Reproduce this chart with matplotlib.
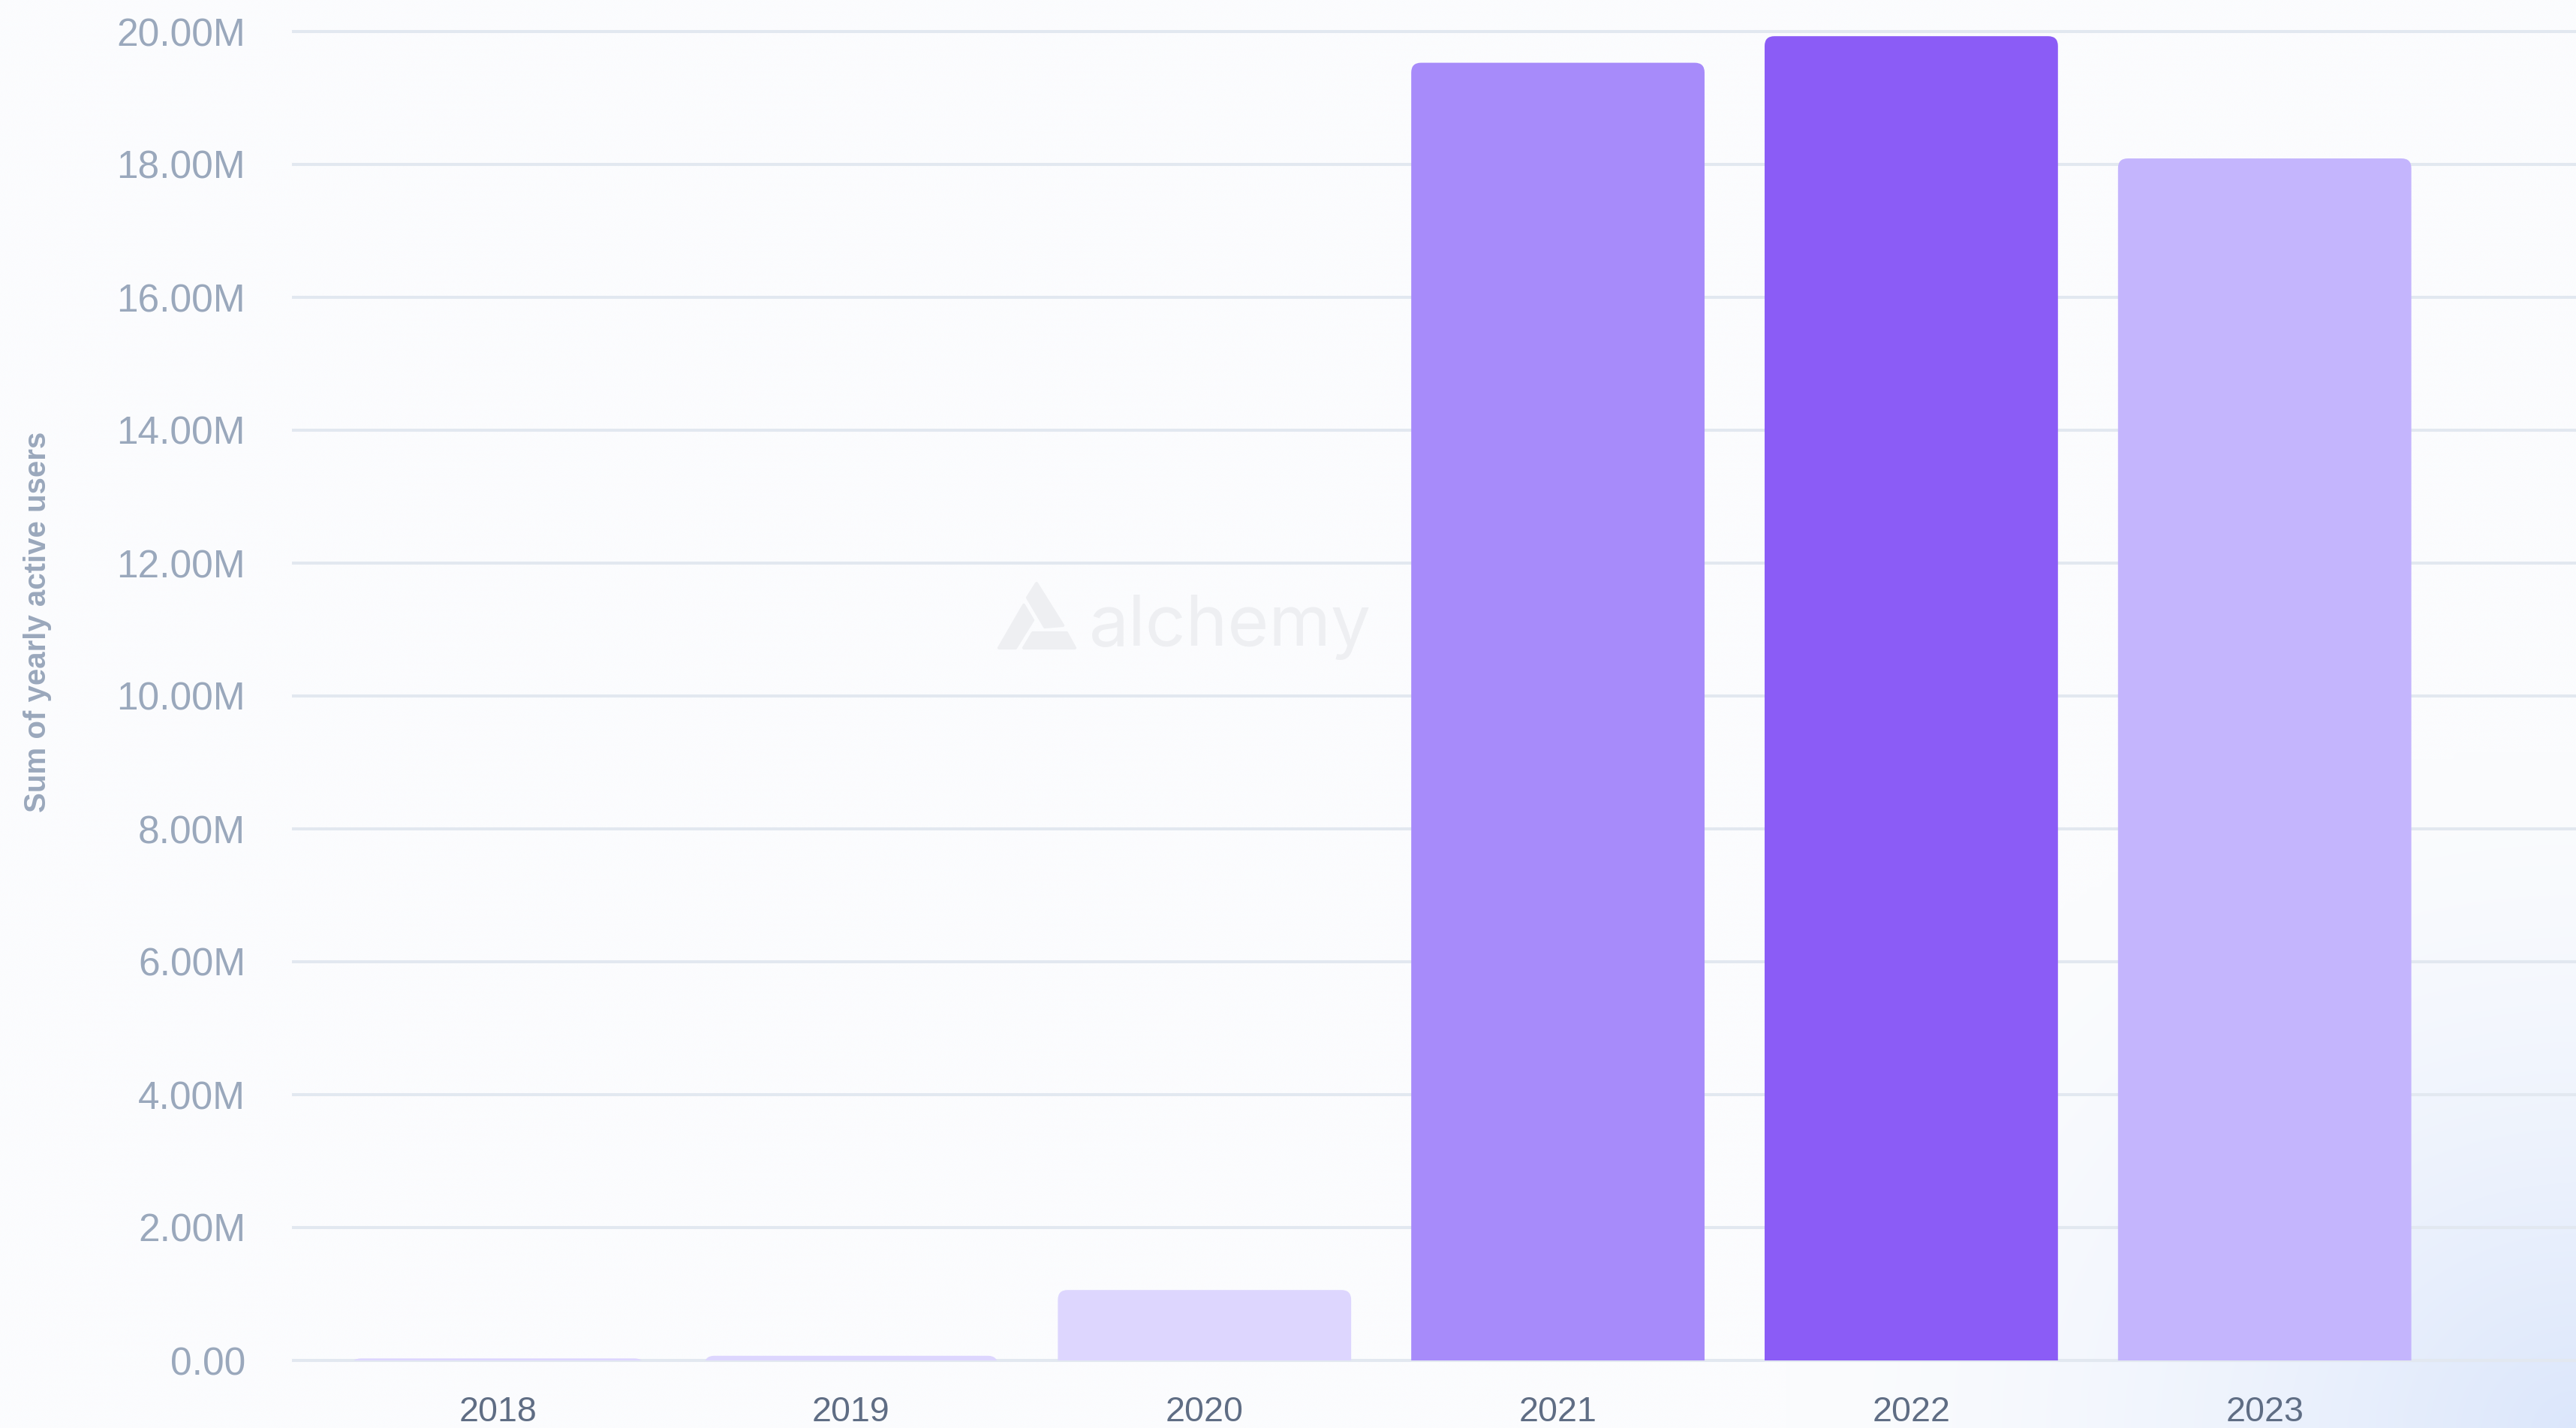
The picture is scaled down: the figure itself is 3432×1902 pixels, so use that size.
import numpy as np
import matplotlib
matplotlib.use("Agg")
import matplotlib.pyplot as plt
from matplotlib.patches import FancyBboxPatch, Polygon
from matplotlib.ticker import FuncFormatter

# ---- data -------------------------------------------------------------
years = ["2018", "2019", "2020", "2021", "2022", "2023"]
active_users_m = [0.03, 0.07, 1.06, 19.53, 19.93, 18.09]   # millions
bar_colors = ["#ddd6fe", "#ddd6fe", "#ddd6fe", "#a78bfa", "#8b5cf6", "#c4b5fd"]
y_ticks = [0, 2, 4, 6, 8, 10, 12, 14, 16, 18, 20]
y_label = "Sum of yearly active users"
watermark = "alchemy"

# ---- figure -----------------------------------------------------------
W, H, DPI = 3432, 1902, 200
fig = plt.figure(figsize=(W / DPI, H / DPI), dpi=DPI)
fig.patch.set_facecolor("#fbfcfe")
plt.rcParams["font.family"] = ["Liberation Sans", "DejaVu Sans"]


def fx(px):
    return px / W


def fy(py):
    return 1 - py / H


# soft bluish glow in the lower-right corner
bg = fig.add_axes([0, 0, 1, 1], zorder=-10)
gh, gw = 191, 344
yy, xx = np.mgrid[0:gh, 0:gw]
d = np.sqrt(((gw - xx) / 105.0) ** 2 + ((gh - yy) / 90.0) ** 2)
t = np.clip(1 - d, 0, 1) ** 1.5
base = np.array([251, 252, 254]) / 255.0
corner = np.array([219, 230, 251]) / 255.0
img = base[None, None, :] * (1 - t[..., None]) + corner[None, None, :] * t[..., None]
bg.imshow(img, aspect="auto", extent=[0, 1, 0, 1], interpolation="bicubic")
bg.set_axis_off()

# ---- main axes ---------------------------------------------------------
ax_left, ax_bottom = 391, 1812
ax = fig.add_axes([fx(ax_left), fy(ax_bottom), 1 - fx(ax_left), 1 - fy(ax_bottom)])
ax.set_facecolor("none")
ymax = 20 + 42 / 88.5
ax.set_ylim(0, ymax)
ax.set_xlim(-0.578, len(years) - 1 + 0.881)

for s in ax.spines.values():
    s.set_visible(False)

ax.set_yticks(y_ticks)
ax.yaxis.set_major_formatter(
    FuncFormatter(lambda v, _: "0.00" if v == 0 else f"{v:.2f}M"))
ax.tick_params(axis="y", length=0, pad=23, labelsize=18.5, labelcolor="#9aa8bc")
ax.tick_params(axis="x", length=0, pad=17, labelsize=16.8, labelcolor="#5f6d84")

ax.grid(axis="y", color="#e2e8f0", linewidth=1.45, zorder=0)
ax.set_axisbelow(True)
for gl in ax.get_ygridlines():
    gl.set_clip_on(False)

x = np.arange(len(years))
bar_width = 0.83
bars = ax.bar(x, active_users_m, width=bar_width, color=bar_colors, zorder=2)
ax.set_xticks(x)
ax.set_xticklabels(years)

# replace plain rectangles by bars with rounded top corners
r_x = 13 / 471.0
r_y = 13 / 88.5
for rect, col in zip(bars, bar_colors):
    x0, w, h = rect.get_x(), rect.get_width(), rect.get_height()
    rect.set_visible(False)
    patch = FancyBboxPatch((x0, -0.4), w, h + 0.4,
                           boxstyle=f"round,pad=0,rounding_size={r_x}",
                           mutation_aspect=r_y / r_x,
                           facecolor=col, edgecolor="none", zorder=2)
    ax.add_patch(patch)

# y-axis title
fig.text(fx(50), fy(828), y_label, rotation=90, ha="center", va="center",
         fontsize=14.5, fontweight="bold", color="#9aa8bc")

# ---- watermark ---------------------------------------------------------
wm_color = "#eeeff2"
logo_parts = [
    [(1331, 863), (1353, 863), (1376, 826), (1364, 806)],
    [(1369, 796), (1381, 777), (1416, 833), (1392, 835)],
    [(1364, 863), (1432, 863), (1421, 843), (1376, 843)],
]
for pts in logo_parts:
    fig.patches.append(Polygon([(fx(a), fy(b)) for a, b in pts], closed=True,
                               transform=fig.transFigure, facecolor=wm_color,
                               edgecolor=wm_color, linewidth=1.5,
                               joinstyle="round", zorder=1))
fig.text(fx(1451), fy(860), watermark, ha="left", va="baseline",
         fontsize=34, color=wm_color, family=["Inter", "DejaVu Sans"], zorder=1)

fig.savefig("out.png", dpi=DPI, facecolor=fig.get_facecolor())
